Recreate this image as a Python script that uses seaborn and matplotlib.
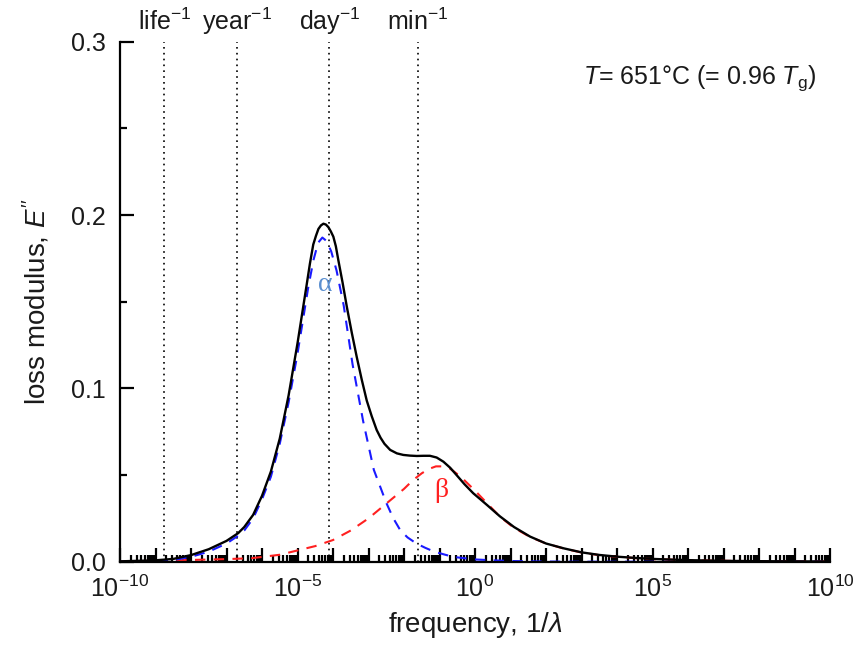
import numpy as np
import pandas as pd
import matplotlib
matplotlib.use("Agg")
import matplotlib.pyplot as plt
import matplotlib.ticker as mticker
import seaborn as sns

# ---- data (log10 frequency, loss modulus) ----
alpha_logf = [-10, -9, -8.5, -8, -7.5, -7, -6.67, -6.5, -6.25, -6.0, -5.75, -5.5, -5.25,
              -5.0, -4.85, -4.7, -4.55, -4.42, -4.3, -4.18, -4.05, -3.9, -3.7, -3.45,
              -3.15, -2.85, -2.5, -2.3, -2.1, -1.9, -1.65, -1.4, -1.15, -0.8, -0.5, 0.0,
              0.5, 1.0, 2, 3, 4, 10]
alpha_E = [0.0, 0.0003, 0.0010, 0.0028, 0.0058, 0.0105, 0.015, 0.018, 0.025, 0.036, 0.049,
           0.068, 0.092, 0.120, 0.139, 0.158, 0.174, 0.184, 0.187, 0.185, 0.179, 0.168,
           0.148, 0.114, 0.081, 0.053, 0.034, 0.025, 0.018, 0.014, 0.0105, 0.008, 0.0058,
           0.0038, 0.0025, 0.0013, 0.0008, 0.0004, 0.0001, 0.0, 0.0, 0.0]

beta_logf = [-10, -9, -8, -7, -6.3, -5.5, -5.0, -4.5, -4.0, -3.5, -3.0, -2.5, -2.0,
             -1.75, -1.5, -1.3, -1.1, -0.9, -0.7, -0.4, -0.2, 0.0, 0.35, 0.7, 1.1, 1.55,
             2.0, 2.5, 3.0, 3.5, 4.0, 4.5, 5, 6, 7, 8, 10]
beta_E = [0.0002, 0.0005, 0.001, 0.0015, 0.002, 0.0040, 0.0065, 0.0090, 0.0125,
          0.018, 0.025, 0.0335, 0.042, 0.047, 0.051, 0.0535, 0.0550, 0.0550, 0.0537,
          0.049, 0.045, 0.041, 0.0335, 0.026, 0.0195, 0.0143, 0.0105, 0.0076, 0.0053,
          0.0038, 0.0028, 0.0021, 0.0015, 0.0008, 0.0005, 0.0003, 0.0001]

total_logf = [-10, -9, -8.5, -8, -7.5, -7, -6.67, -6.5, -6.25, -6.0, -5.75, -5.5, -5.25,
              -5.0, -4.87, -4.74, -4.65, -4.556, -4.48, -4.41, -4.34, -4.27, -4.2, -4.13,
              -4.06, -3.99, -3.92, -3.85, -3.73, -3.61, -3.47, -3.33, -3.19, -3.05, -2.91,
              -2.77, -2.66, -2.55, -2.39, -2.2, -2.02, -1.83, -1.64, -1.45, -1.27, -1.08,
              -0.89, -0.7, -0.52, -0.3, -0.05, 0.14, 0.35, 0.7, 1.1, 1.55, 2.0, 2.5, 3.0,
              3.5, 4.0, 4.5, 5, 6, 7, 8, 10]
total_E = [0.0002, 0.0008, 0.0016, 0.0038, 0.0072, 0.012, 0.0165, 0.020, 0.027, 0.038,
           0.052, 0.071, 0.096, 0.126, 0.143, 0.160, 0.172, 0.183, 0.188, 0.192, 0.194,
           0.195, 0.1945, 0.193, 0.1905, 0.1875, 0.182, 0.174, 0.161, 0.147, 0.132,
           0.118, 0.105, 0.093, 0.084, 0.076, 0.0715, 0.068, 0.0645, 0.0625, 0.0616,
           0.0612, 0.0610, 0.0611, 0.0611, 0.0601, 0.0577, 0.0542, 0.0500, 0.0448,
           0.0395, 0.0362, 0.0325, 0.0262, 0.020, 0.0145, 0.0105, 0.0077, 0.0054,
           0.0039, 0.0029, 0.0022, 0.0016, 0.0009, 0.0005, 0.0003, 0.0001]

marker_names = ["life$^{-1}$", "year$^{-1}$", "day$^{-1}$", "min$^{-1}$"]
marker_logf = [-8.75, -6.70, -4.10, -1.61]

# ---- style ----
sns.set_theme(style="ticks")
plt.rcParams["font.family"] = ["Liberation Sans", "DejaVu Sans"]
plt.rcParams["mathtext.fontset"] = "custom"
plt.rcParams["mathtext.rm"] = "Liberation Sans"
plt.rcParams["mathtext.it"] = "Liberation Sans:italic"
plt.rcParams["mathtext.bf"] = "Liberation Sans:bold"
plt.rcParams["lines.solid_joinstyle"] = "round"
plt.rcParams["lines.dash_joinstyle"] = "round"

fig = plt.figure(figsize=(8.65, 6.45), dpi=100)
ax = fig.add_axes([120 / 865, 1 - 561.7 / 645, 710 / 865, 520 / 645])

df_a = pd.DataFrame({"f": 10.0 ** np.array(alpha_logf), "E": alpha_E})
df_b = pd.DataFrame({"f": 10.0 ** np.array(beta_logf), "E": beta_E})
df_t = pd.DataFrame({"f": 10.0 ** np.array(total_logf), "E": total_E})

for lf in marker_logf:
    ax.axvline(10.0 ** lf, color="black", linestyle=(0, (1, 2.5)), linewidth=1.2, zorder=1)

sns.lineplot(data=df_b, x="f", y="E", ax=ax, color="#ff2020", linestyle=(0, (5, 4)),
             linewidth=1.5, zorder=2)
sns.lineplot(data=df_a, x="f", y="E", ax=ax, color="#1a1aff", linestyle=(0, (5, 4)),
             linewidth=1.5, zorder=2)
sns.lineplot(data=df_t, x="f", y="E", ax=ax, color="black", linewidth=1.7, zorder=3)

ax.set_xscale("log")
ax.set_xlim(1e-10, 1e10)
ax.set_ylim(0, 0.3)

ax.xaxis.set_major_locator(mticker.FixedLocator([10.0 ** k for k in range(-10, 11)]))
ax.xaxis.set_major_formatter(mticker.FuncFormatter(
    lambda v, p: (r"$10^{%d}$" % round(np.log10(v))) if round(np.log10(v)) % 5 == 0 else ""))
ax.xaxis.set_minor_locator(mticker.LogLocator(base=10, subs=np.arange(2, 10), numticks=100))
ax.xaxis.set_minor_formatter(mticker.NullFormatter())

ax.yaxis.set_major_locator(mticker.MultipleLocator(0.1))
ax.yaxis.set_minor_locator(mticker.MultipleLocator(0.05))
ax.yaxis.set_major_formatter(mticker.FormatStrFormatter("%.1f"))

ax.tick_params(axis="both", which="major", direction="in", length=10, width=1.6,
               labelsize=18, color="black", labelcolor="#1a1a1a")
ax.tick_params(axis="both", which="minor", direction="in", length=5, width=1.6,
               color="black")
ax.tick_params(axis="x", which="major", pad=10)
ax.tick_params(axis="y", which="major", pad=10)

sns.despine(ax=ax)
for s in ["left", "bottom"]:
    ax.spines[s].set_linewidth(1.6)
    ax.spines[s].set_color("black")

ax.set_xlabel(r"frequency, 1/$\lambda$", fontsize=20, color="#1a1a1a", labelpad=6)
ax.set_ylabel(r"loss modulus, $E''$", fontsize=20, color="#1a1a1a", labelpad=14)

trans = matplotlib.transforms.blended_transform_factory(ax.transData, ax.transAxes)
for name, lf in zip(marker_names, marker_logf):
    ax.text(10.0 ** lf, 1.022, name, transform=trans, ha="center", va="baseline",
            fontsize=18, color="#1a1a1a")

ax.text(0.652, 0.93, r"$T$= 651°C (= 0.96 $T_{\mathrm{g}}$)", transform=ax.transAxes,
        ha="left", va="center", fontsize=18, color="#1a1a1a")

ax.text(10.0 ** -4.23, 0.160, "α", ha="center", va="center", fontsize=20,
        color="#5b8fd0", family=["Liberation Serif", "DejaVu Serif"])
ax.text(10.0 ** -0.96, 0.041, "β", ha="center", va="center", fontsize=20,
        color="#ff2020", family=["Liberation Serif", "DejaVu Serif"])

fig.savefig("out.png", dpi=100)
